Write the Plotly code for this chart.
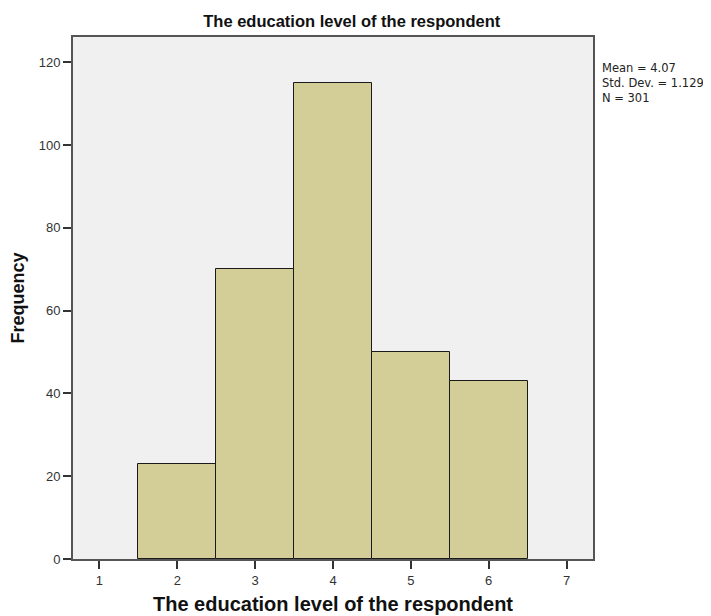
import plotly.graph_objects as go

levels = [2, 3, 4, 5, 6]
frequency = [23, 70, 115, 50, 43]
x_ticks = [1, 2, 3, 4, 5, 6, 7]
y_ticks = [0, 20, 40, 60, 80, 100, 120]
stats_lines = ["Mean = 4.07", "Std. Dev. = 1.129", "N = 301"]
title_text = "The education level of the respondent"

# The page body has an 8px default margin; the figure is sized to fit the window.
W, H = 703, 608

fig = go.Figure()
fig.add_trace(go.Bar(
    x=levels, y=frequency, width=1,
    marker=dict(color="#D3CE97", line=dict(color="#1a1a1a", width=1)),
    showlegend=False, hoverinfo="x+y",
))

fig.update_layout(
    width=W, height=H,
    margin=dict(l=65, r=118, t=29, b=57, autoexpand=False),
    paper_bgcolor="white",
    plot_bgcolor="#F0F0F0",
    font=dict(family="Liberation Sans, Arial, sans-serif", color="#222"),
    title=dict(text="<b>" + title_text + "</b>", x=0.489, xanchor="center",
               xref="container", yref="container",
               y=0.978, yanchor="middle", font=dict(size=16.5, color="#111")),
    bargap=0,
)
fig.update_xaxes(
    range=[0.66, 7.34], tickvals=x_ticks, ticktext=[str(v) for v in x_ticks],
    ticks="outside", ticklen=8, tickwidth=2, tickcolor="#333",
    showline=True, linecolor="#555", linewidth=2, mirror=True,
    showgrid=False, zeroline=False, automargin=False,
    tickfont=dict(size=13, color="#333"),
    title=dict(text="<b>" + title_text + "</b>", font=dict(size=20, color="#111"), standoff=10),
)
fig.update_yaxes(
    range=[0, 126.1], tickvals=y_ticks,
    ticks="outside", ticklen=8, tickwidth=2, tickcolor="#333",
    showline=True, linecolor="#555", linewidth=2, mirror=True,
    showgrid=False, zeroline=False, automargin=False,
    tickfont=dict(size=13, color="#333"),
    title=dict(text="<b>Frequency</b>", font=dict(size=18, color="#111"), standoff=10),
)
fig.add_annotation(
    text="<br>".join(stats_lines), xref="paper", yref="paper",
    x=1.013, y=1 - (83 - 37) / 522, xanchor="left", yanchor="middle",
    align="left", showarrow=False,
    font=dict(size=11.5, color="#222", family="DejaVu Sans, sans-serif"),
)

fig.write_html("out.html")
